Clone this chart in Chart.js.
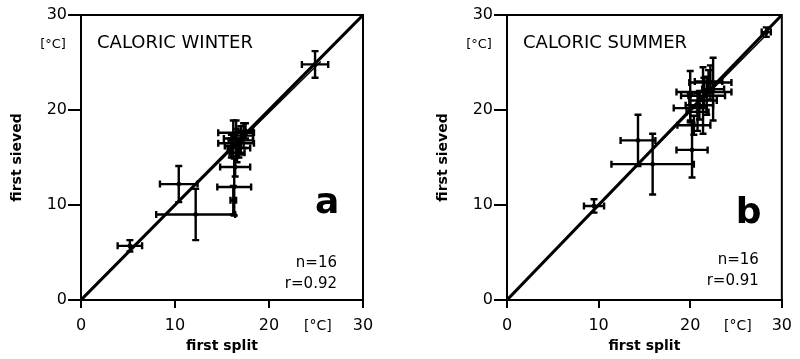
<!DOCTYPE html>
<html>
<head>
<meta charset="utf-8">
<script src="https://cdn.jsdelivr.net/npm/chart.js@4/dist/chart.umd.min.js"></script>
<style>
    html, body { margin: 0; padding: 0; background: #fff; }
    #wrap { position: relative; width: 800px; height: 359px; }
    .panel { position: absolute; top: 0; height: 359px; }
</style>
</head>
<body>
<div id="wrap">
    <div class="panel" style="left:0;width:400px"><canvas id="chartA" width="400" height="359"></canvas></div>
    <div class="panel" style="left:426px;width:374px"><canvas id="chartB" width="374" height="359"></canvas></div>
</div>
<script>
const axisTicks = [0, 10, 20, 30];
const diagonal = [0, 30]; // 1:1 line ends

// a: caloric winter
const winterX = [24.9, 5.2, 10.4, 12.2, 16.4, 16.3, 16.2, 16.5, 16.5, 16.2, 17.3, 16.8, 17.0, 16.6, 17.5, 16.0];
const winterY = [24.8, 5.7, 12.2, 9.0, 14.0, 11.9, 10.5, 17.6, 16.5, 17.0, 17.3, 16.0, 16.8, 15.5, 17.8, 16.2];
const winterErrX = [1.4, 1.3, 2.0, 4.2, 1.6, 1.8, 0.3, 1.9, 1.9, 1.0, 1.0, 1.2, 1.3, 0.8, 0.8, 0.7];
const winterErrY = [1.4, 0.6, 1.9, 2.7, 1.0, 3.0, 1.5, 1.3, 1.5, 1.9, 1.3, 1.0, 1.5, 1.0, 0.8, 1.2];
const winterFitX = [5.0, 25.5];
const winterFitY = [5.1, 25.1];

// b: caloric summer
const summerX = [28.3, 9.5, 14.3, 15.9, 20.2, 20.4, 20.0, 21.5, 22.2, 22.5, 21.4, 20.0, 21.0, 22.0, 20.8, 21.8];
const summerY = [28.2, 9.9, 16.8, 14.3, 15.8, 18.4, 20.2, 21.9, 22.9, 22.2, 21.0, 21.5, 20.5, 23.0, 19.8, 21.5];
const summerErrX = [0.5, 1.1, 1.9, 4.5, 1.7, 1.8, 1.8, 3.0, 2.3, 1.2, 1.5, 1.0, 1.5, 1.5, 1.2, 2.0];
const summerErrY = [0.5, 0.7, 2.7, 3.2, 2.9, 1.0, 1.5, 1.5, 1.8, 3.3, 3.5, 2.6, 1.5, 1.2, 2.0, 2.0];
const summerFitX = [9.5, 28.5];
const summerFitY = [9.6, 28.1];

const FONT = 'DejaVu Sans';

// error bars + frame + panel labels
const panelPlugin = {
    id: 'panelExtras',
    afterDatasetsDraw(chart) {
        const { ctx, chartArea: area, scales: { x, y } } = chart;
        ctx.save();
        ctx.strokeStyle = '#000';
        ctx.lineWidth = 2.4;
        chart.data.datasets.forEach(ds => {
            if (!ds.errorBars) return;
            ds.data.forEach(p => {
                const px = x.getPixelForValue(p.x), py = y.getPixelForValue(p.y);
                const x0 = x.getPixelForValue(p.x - p.ex), x1 = x.getPixelForValue(p.x + p.ex);
                const y0 = y.getPixelForValue(p.y - p.ey), y1 = y.getPixelForValue(p.y + p.ey);
                ctx.beginPath();
                ctx.moveTo(x0, py); ctx.lineTo(x1, py);
                ctx.moveTo(px, y0); ctx.lineTo(px, y1);
                ctx.moveTo(x0, py - 3.5); ctx.lineTo(x0, py + 3.5);
                ctx.moveTo(x1, py - 3.5); ctx.lineTo(x1, py + 3.5);
                ctx.moveTo(px - 3.5, y0); ctx.lineTo(px + 3.5, y0);
                ctx.moveTo(px - 3.5, y1); ctx.lineTo(px + 3.5, y1);
                ctx.stroke();
            });
        });
        // box around plot
        ctx.lineWidth = 2;
        ctx.strokeRect(area.left, area.top, area.right - area.left, area.bottom - area.top);

        const o = chart.options.plugins.panelExtras;
        ctx.fillStyle = '#000';
        ctx.textBaseline = 'alphabetic';
        ctx.textAlign = 'left';
        ctx.font = '18px "' + FONT + '"';
        ctx.fillText(o.title, area.left + 16, area.top + 33);
        ctx.font = 'bold 36px "' + FONT + '"';
        ctx.fillText(o.letter, area.right - o.letterRight, o.letterBase);
        ctx.textAlign = 'right';
        ctx.font = '15px "' + FONT + '"';
        ctx.fillText(o.n, area.right - o.statRight, o.nBase);
        ctx.fillText(o.r, area.right - o.statRight, o.nBase + 21);
        // units
        ctx.textAlign = 'center';
        ctx.textBaseline = 'middle';
        ctx.font = '14px "' + FONT + '"';
        ctx.fillText('[°C]', x.getPixelForValue(25.2), 326);
        ctx.font = '13px "' + FONT + '"';
        ctx.fillText('[°C]', area.left - 28, 45);
        ctx.restore();
    }
};

function makePanel(canvasId, xs, ys, errX, errY, fitX, fitY, rightPad, text) {
    const points = xs.map((v, i) => ({ x: v, y: ys[i], ex: errX[i], ey: errY[i] }));
    const axisCommon = {
        type: 'linear',
        min: 0,
        max: 30,
        afterBuildTicks: s => { s.ticks = axisTicks.map(v => ({ value: v })); },
        border: { color: '#000', width: 2 },
    };
    new Chart(document.getElementById(canvasId), {
        type: 'scatter',
        data: {
            datasets: [
                {
                    type: 'line',
                    data: diagonal.map(v => ({ x: v, y: v })),
                    borderColor: '#000',
                    borderWidth: 3,
                    pointRadius: 0
                },
                {
                    type: 'line',
                    data: fitX.map((v, i) => ({ x: v, y: fitY[i] })),
                    borderColor: '#000',
                    borderWidth: 1.5,
                    pointRadius: 0
                },
                {
                    data: points,
                    errorBars: true,
                    pointRadius: 2,
                    backgroundColor: '#000',
                    borderColor: '#000'
                }
            ]
        },
        options: {
            responsive: false,
            animation: false,
            layout: { padding: { left: 0, right: rightPad, top: 15, bottom: 0 } },
            scales: {
                x: {
                    ...axisCommon,
                    ticks: { font: { family: FONT, size: 16 }, color: '#000', padding: 8, maxRotation: 0 },
                    grid: { drawOnChartArea: false, tickLength: 8, color: '#000', lineWidth: 2 },
                    title: {
                        display: true, text: 'first split', color: '#000',
                        font: { family: FONT, size: 14, weight: 'bold' },
                        padding: { top: 0, bottom: 4 }
                    },
                    afterFit: s => { s.height = 59; }
                },
                y: {
                    ...axisCommon,
                    ticks: { font: { family: FONT, size: 16 }, color: '#000', padding: 1 },
                    grid: { drawOnChartArea: false, tickLength: 13, color: '#000', lineWidth: 2 },
                    title: {
                        display: true, text: 'first sieved', color: '#000',
                        font: { family: FONT, size: 14, weight: 'bold' },
                        padding: { top: 9, bottom: 0 }
                    },
                    afterFit: s => { s.width = 81; }
                }
            },
            plugins: {
                legend: { display: false },
                tooltip: { enabled: false },
                panelExtras: text
            }
        },
        plugins: [panelPlugin]
    });
}

makePanel('chartA', winterX, winterY, winterErrX, winterErrY, winterFitX, winterFitY, 37,
    { title: 'CALORIC WINTER', letter: 'a', letterRight: 48, letterBase: 213, n: 'n=16', r: 'r=0.92', statRight: 26, nBase: 267 });
makePanel('chartB', summerX, summerY, summerErrX, summerErrY, summerFitX, summerFitY, 12,
    { title: 'CALORIC SUMMER', letter: 'b', letterRight: 46, letterBase: 223, n: 'n=16', r: 'r=0.91', statRight: 23, nBase: 264 });
</script>
</body>
</html>
